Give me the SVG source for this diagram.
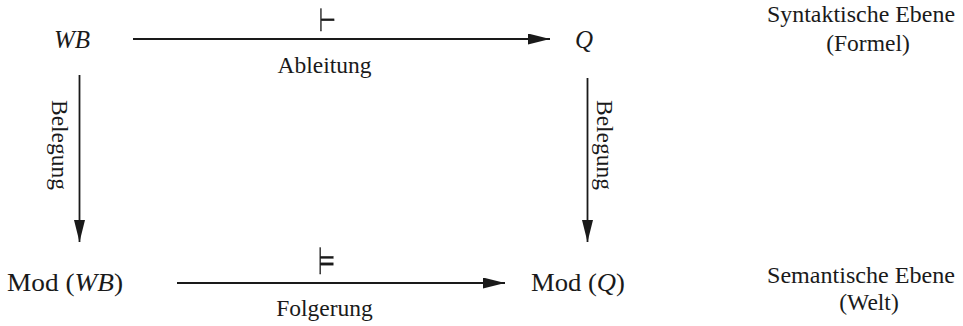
<svg xmlns="http://www.w3.org/2000/svg" width="963" height="326" viewBox="0 0 963 326">
<style>
  .t { font-family: "Liberation Serif", "Times New Roman", serif; font-size: 23.5px; fill: #1a1a1a; }
  .n { font-family: "Liberation Serif", "Times New Roman", serif; font-size: 25px; fill: #1a1a1a; }
  .i { font-style: italic; }
  .sym { font-family: "DejaVu Sans", sans-serif; fill: #1a1a1a; stroke: #1a1a1a; stroke-width: 0.25; filter: url(#gray); }
  .c { stroke: #1a1a1a; stroke-width: 1.8; fill: none; }
</style>
<defs>
  <filter id="gray" x="-20%" y="-20%" width="140%" height="140%" color-interpolation-filters="sRGB">
    <feColorMatrix type="saturate" values="0"/>
  </filter>
  <marker id="ah" markerUnits="userSpaceOnUse" markerWidth="22" markerHeight="11" refX="22" refY="5.5" orient="auto" viewBox="0 0 22 11">
    <path d="M0,0 L22,5.5 L0,11 Z" fill="#1a1a1a"/>
  </marker>
</defs>

<g id="connectors">
  <g id="ableitung">
    <line class="c" x1="133" y1="39" x2="550" y2="39" marker-end="url(#ah)"/>
    <text class="sym" font-size="32" transform="translate(318.5,30.5) scale(0.62,1)">⊢</text>
    <text class="t" x="324.5" y="73" text-anchor="middle">Ableitung</text>
  </g>
  <g id="folgerung">
    <line class="c" x1="177" y1="283" x2="505" y2="283" marker-end="url(#ah)"/>
    <text class="sym" font-size="38" transform="translate(318,273.5) scale(0.52,1)">⊨</text>
    <text class="t" x="324.5" y="316" text-anchor="middle">Folgerung</text>
  </g>
  <g id="belegung-left">
    <line class="c" x1="79.5" y1="75" x2="79.5" y2="242" marker-end="url(#ah)"/>
    <text class="t" transform="translate(52,145) rotate(90)" text-anchor="middle">Belegung</text>
  </g>
  <g id="belegung-right">
    <line class="c" x1="587.5" y1="78" x2="587.5" y2="242" marker-end="url(#ah)"/>
    <text class="t" transform="translate(597,145) rotate(90)" text-anchor="middle">Belegung</text>
  </g>
</g>

<g id="node-wb">
  <text class="n i" x="54" y="48">WB</text>
</g>
<g id="node-q">
  <text class="n i" x="575" y="48">Q</text>
</g>
<g id="node-modwb">
  <text class="n" x="7" y="291" textLength="116" lengthAdjust="spacingAndGlyphs">Mod (<tspan class="i">WB</tspan>)</text>
</g>
<g id="node-modq">
  <text class="n" x="531" y="291" textLength="94" lengthAdjust="spacingAndGlyphs">Mod (<tspan class="i">Q</tspan>)</text>
</g>

<g id="label-syntaktisch">
  <text class="t" x="767" y="22" textLength="188" lengthAdjust="spacingAndGlyphs">Syntaktische Ebene</text>
  <text class="t" x="868" y="51" text-anchor="middle">(Formel)</text>
</g>
<g id="label-semantisch">
  <text class="t" x="767" y="283" textLength="188" lengthAdjust="spacingAndGlyphs">Semantische Ebene</text>
  <text class="t" x="869" y="310" text-anchor="middle">(Welt)</text>
</g>
</svg>
